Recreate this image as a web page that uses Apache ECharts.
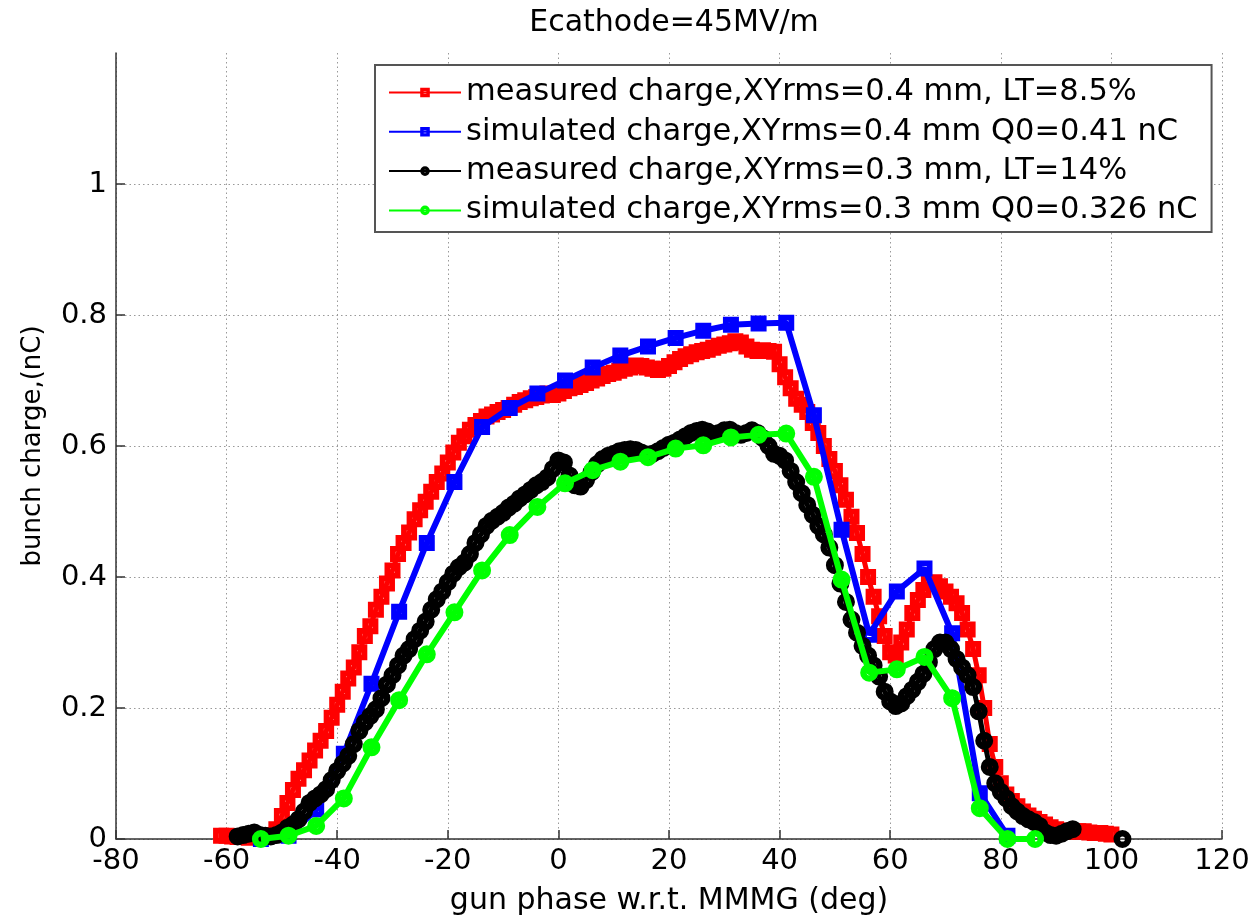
<!DOCTYPE html>
<html>
<head>
<meta charset="utf-8">
<script src="https://cdn.jsdelivr.net/npm/echarts@6/dist/echarts.min.js"></script>
<style>
html,body{margin:0;padding:0;background:#fff;}
#chart{width:1259px;height:921px;}
</style>
</head>
<body>
<div id="chart"></div>
<script>
// ---- data ----
const titleText = 'Ecathode=45MV/m';
const xName = 'gun phase w.r.t. MMMG (deg)';
const yName = 'bunch charge,(nC)';
const seriesNames = [
  'measured charge,XYrms=0.4 mm, LT=8.5%',
  'simulated charge,XYrms=0.4 mm Q0=0.41 nC',
  'measured charge,XYrms=0.3 mm, LT=14%',
  'simulated charge,XYrms=0.3 mm Q0=0.326 nC'
];
const xTicks = [-80, -60, -40, -20, 0, 20, 40, 60, 80, 100, 120];
const yTicks = [0, 0.2, 0.4, 0.6, 0.8, 1];

// measured, XYrms=0.4 mm (red)
const redX = [-61,-60,-59,-58,-57,-56,-55,-54,-53,-52,-51,-50,-49,-48,-47,-46,-45,-44,-43,-42,-41,-40,-39,-38,-37,-36,-35,-34,-33,-32,-31,-30,-29,-28,-27,-26,-25,-24,-23,-22,-21,-20,-19,-18,-17,-16,-15,-14,-13,-12,-11,-10,-9,-8,-7,-6,-5,-4,-3,-2,-1,0,1,2,3,4,5,6,7,8,9,10,11,12,13,14,15,16,17,18,19,20,21,22,23,24,25,26,27,28,29,30,31,32,33,34,35,36,37,38,39,40,41,42,43,44,45,46,47,48,49,50,51,52,53,54,55,56,57,58,59,60,61,62,63,64,65,66,67,68,69,70,71,72,73,74,75,76,77,78,79,80,81,82,83,84,85,86,87,88,89,90,91,92,93,94,95,96,97,98,99,100];
const redY = [0.005,0.005,0.004,0.003,0.003,0.002,0.003,0.004,0.004,0.006,0.015,0.035,0.055,0.075,0.092,0.105,0.12,0.135,0.15,0.165,0.185,0.205,0.225,0.245,0.262,0.285,0.31,0.325,0.35,0.37,0.39,0.41,0.435,0.452,0.468,0.488,0.502,0.515,0.53,0.545,0.558,0.575,0.59,0.605,0.615,0.625,0.632,0.638,0.645,0.648,0.652,0.655,0.658,0.663,0.667,0.67,0.673,0.675,0.677,0.68,0.678,0.68,0.684,0.688,0.69,0.693,0.696,0.70,0.703,0.707,0.71,0.712,0.715,0.718,0.72,0.723,0.722,0.72,0.718,0.716,0.718,0.722,0.728,0.733,0.737,0.74,0.743,0.745,0.747,0.75,0.753,0.755,0.757,0.76,0.758,0.752,0.747,0.745,0.746,0.745,0.744,0.725,0.705,0.688,0.672,0.663,0.652,0.635,0.62,0.6,0.58,0.562,0.54,0.518,0.492,0.467,0.435,0.4,0.37,0.34,0.31,0.285,0.28,0.3,0.32,0.345,0.365,0.38,0.39,0.392,0.386,0.378,0.37,0.36,0.345,0.32,0.29,0.25,0.2,0.145,0.11,0.085,0.068,0.058,0.05,0.042,0.036,0.031,0.026,0.022,0.018,0.015,0.013,0.012,0.011,0.012,0.012,0.01,0.009,0.009,0.008,0.007];

// simulated, XYrms=0.4 mm (blue)
const blueX = [-53.8,-48.8,-43.8,-38.8,-33.8,-28.8,-23.8,-18.8,-13.8,-8.8,-3.8,1.2,6.2,11.2,16.2,21.2,26.2,31.2,36.2,41.2,46.2,51.2,56.2,61.2,66.2,71.2,76.2,81.2];
const blueY = [0,0.005,0.045,0.13,0.237,0.347,0.452,0.545,0.629,0.658,0.68,0.70,0.72,0.738,0.752,0.765,0.776,0.785,0.787,0.788,0.647,0.472,0.312,0.378,0.413,0.314,0.07,0.005];

// measured, XYrms=0.3 mm (black)
const blackX = [-58,-57,-56,-55,-54,-53,-52,-51,-50,-49,-48,-47,-46,-45,-44,-43,-42,-41,-40,-39,-38,-37,-36,-35,-34,-33,-32,-31,-30,-29,-28,-27,-26,-25,-24,-23,-22,-21,-20,-19,-18,-17,-16,-15,-14,-13,-12,-11,-10,-9,-8,-7,-6,-5,-4,-3,-2,-1,0,1,2,3,4,5,6,7,8,9,10,11,12,13,14,15,16,17,18,19,20,21,22,23,24,25,26,27,28,29,30,31,32,33,34,35,36,37,38,39,40,41,42,43,44,45,46,47,48,49,50,51,52,53,54,55,56,57,58,59,60,61,62,63,64,65,66,67,68,69,70,71,72,73,74,75,76,77,78,79,80,81,82,83,84,85,86,87,88,89,90,91,92,93,98,102];
const blackY = [0.004,0.006,0.008,0.01,0.006,0.005,0.004,0.006,0.01,0.017,0.022,0.03,0.042,0.055,0.062,0.068,0.076,0.09,0.104,0.115,0.127,0.145,0.165,0.178,0.188,0.198,0.215,0.236,0.25,0.265,0.28,0.29,0.305,0.318,0.332,0.35,0.366,0.378,0.392,0.405,0.415,0.422,0.435,0.452,0.465,0.478,0.486,0.492,0.498,0.506,0.512,0.52,0.526,0.533,0.54,0.545,0.552,0.565,0.578,0.575,0.555,0.54,0.538,0.548,0.56,0.572,0.58,0.585,0.588,0.592,0.594,0.595,0.594,0.59,0.587,0.588,0.592,0.597,0.602,0.605,0.61,0.615,0.62,0.623,0.625,0.622,0.618,0.62,0.624,0.625,0.62,0.617,0.62,0.624,0.62,0.612,0.6,0.588,0.585,0.578,0.562,0.545,0.528,0.51,0.495,0.478,0.465,0.445,0.418,0.39,0.362,0.335,0.315,0.295,0.28,0.265,0.248,0.225,0.21,0.203,0.207,0.218,0.228,0.24,0.252,0.27,0.29,0.3,0.3,0.29,0.275,0.262,0.25,0.232,0.195,0.15,0.11,0.085,0.072,0.062,0.05,0.042,0.035,0.03,0.026,0.02,0.01,0.006,0.005,0.008,0.012,0.015,null,0];

// simulated, XYrms=0.3 mm (green)
const greenX = [-53.8,-48.8,-43.8,-38.8,-33.8,-28.8,-23.8,-18.8,-13.8,-8.8,-3.8,1.2,6.2,11.2,16.2,21.2,26.2,31.2,36.2,41.2,46.2,51.2,56.2,61.2,66.2,71.2,76.2,81.2,86.2];
const greenY = [0,0.005,0.02,0.062,0.14,0.212,0.282,0.346,0.41,0.464,0.507,0.543,0.563,0.576,0.583,0.596,0.601,0.613,0.617,0.619,0.553,0.396,0.254,0.259,0.278,0.215,0.047,0,0];

// ---- chart ----
const FONT = 'DejaVu Sans';
// hollow marker shapes with thick rims (outer ring, inner hole of opposite winding)
const SQUARE_RING = 'path://M0,0L12,0L12,12L0,12Z M4.3,4.3L4.3,7.7L7.7,7.7L7.7,4.3Z';
const CIRCLE_RING = 'path://M7,0A7,7 0 1,1 7,14A7,7 0 1,1 7,0Z M7,5A2,2 0 1,0 7,9A2,2 0 1,0 7,5Z';
function pairs(xs, ys){ return xs.map((x,i)=>[x, ys[i]]); }
function mkSeries(name, xs, ys, color, symbol, size, lw, z){
  return {
    name: name, type: 'line', data: pairs(xs, ys),
    symbol: symbol, symbolSize: size, symbolKeepAspect: true,
    showSymbol: true, showAllSymbol: true, clip: false,
    connectNulls: false, z: z,
    color: color,
    lineStyle: {color: color, width: lw, type: 'solid'},
    itemStyle: {color: color, borderWidth: 0},
    emphasis: {disabled: true}
  };
}
const chart = echarts.init(document.getElementById('chart'), null, {renderer: 'canvas'});
chart.setOption({
  animation: false,
  backgroundColor: '#fff',
  title: {
    text: titleText, left: 669, top: 3, textAlign: 'center',
    textStyle: {fontFamily: FONT, fontSize: 30, fontWeight: 'normal', color: '#000'}
  },
  grid: {left: 116, right: 37, top: 53, bottom: 80, containLabel: false},
  legend: {
    show: true, orient: 'vertical', left: 375, top: 65,
    data: seriesNames,
    backgroundColor: '#fff', borderColor: '#555', borderWidth: 2,
    padding: [12, 14, 6, 13], itemGap: 8.3, itemWidth: 72, itemHeight: 12,
    textStyle: {fontFamily: FONT, fontSize: 30.5, color: '#000', lineHeight: 30},
    selectedMode: false
  },
  xAxis: {
    type: 'value', min: -80, max: 120, interval: 20,
    name: xName, nameLocation: 'middle', nameGap: 47,
    nameTextStyle: {fontFamily: FONT, fontSize: 30, color: '#000'},
    axisLine: {show: true, onZero: false, lineStyle: {color: '#333', width: 1.5}},
    axisTick: {show: true, inside: true, length: 9, lineStyle: {color: '#333', width: 1.5}},
    axisLabel: {fontFamily: FONT, fontSize: 29, color: '#000', margin: 8,
      formatter: v => xTicks.includes(v) ? String(v) : ''},
    splitLine: {show: true, lineStyle: {color: '#999', width: 1, type: [1.5, 3]}}
  },
  yAxis: {
    type: 'value', min: 0, max: 1.2, interval: 0.2,
    name: yName, nameLocation: 'middle', nameGap: 70, nameRotate: 90,
    nameTextStyle: {fontFamily: FONT, fontSize: 26, color: '#000'},
    axisLine: {show: true, onZero: false, lineStyle: {color: '#333', width: 1.5}},
    axisTick: {show: true, inside: true, length: 9, lineStyle: {color: '#333', width: 1.5}},
    axisLabel: {fontFamily: FONT, fontSize: 29, color: '#000', margin: 9, showMaxLabel: false,
      formatter: v => {
        const t = yTicks.find(k => Math.abs(k - v) < 1e-9);
        return t === undefined ? '' : String(t);
      }},
    splitLine: {show: true, showMaxLine: false, lineStyle: {color: '#999', width: 1, type: [1.5, 3]}}
  },
  series: [
    mkSeries(seriesNames[0], redX, redY, '#ff0000', SQUARE_RING, 16, 5, 2),
    mkSeries(seriesNames[1], blueX, blueY, '#0000ff', SQUARE_RING, 16, 6, 3),
    mkSeries(seriesNames[2], blackX, blackY, '#000000', CIRCLE_RING, 18, 5, 4),
    mkSeries(seriesNames[3], greenX, greenY, '#00ff00', CIRCLE_RING, 18, 6, 5)
  ]
});
</script>
</body>
</html>
